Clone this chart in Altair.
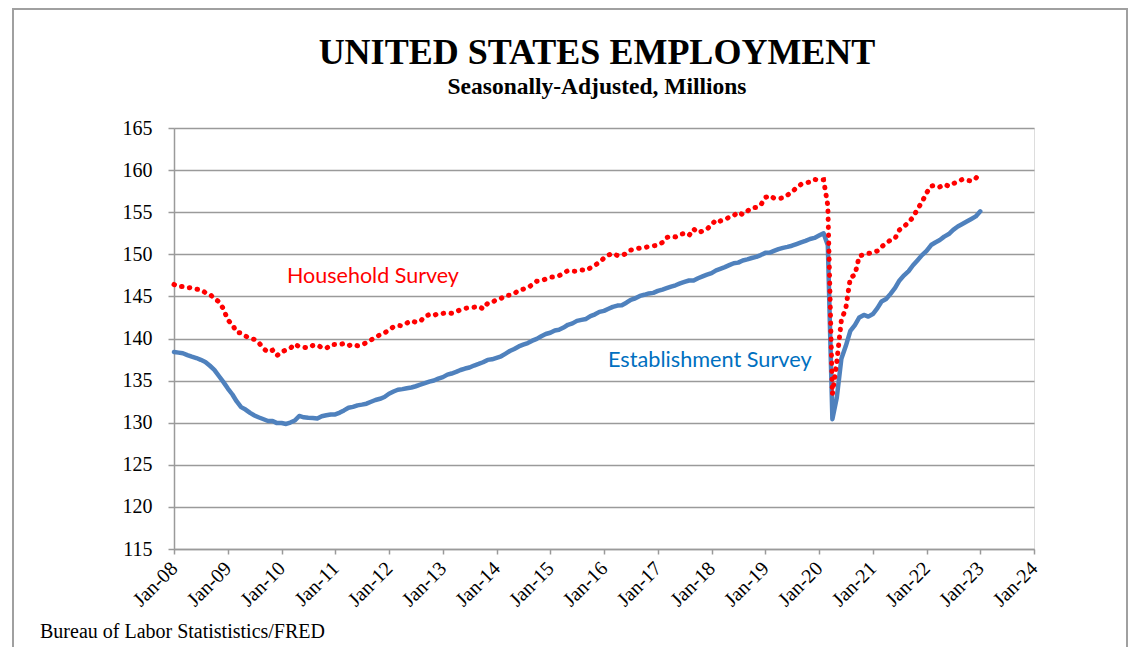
import altair as alt
import pandas as pd

# Monthly values, Jan-2008 .. Jan-2023 (millions)
establishment = [
    # 2008
    138.40, 138.32, 138.25, 138.03, 137.85, 137.68, 137.47, 137.21, 136.76, 136.28, 135.55, 134.85,
    # 2009
    134.06, 133.35, 132.55, 131.85, 131.56, 131.16, 130.85, 130.62, 130.41, 130.20, 130.21, 129.95,
    # 2010
    129.97, 129.85, 130.02, 130.26, 130.80, 130.64, 130.58, 130.57, 130.51, 130.77, 130.89, 130.98,
    # 2011
    130.98, 131.20, 131.46, 131.77, 131.88, 132.06, 132.15, 132.26, 132.49, 132.70, 132.84, 133.05,
    # 2012
    133.44, 133.70, 133.91, 133.99, 134.10, 134.18, 134.33, 134.51, 134.69, 134.87, 135.01, 135.23,
    # 2013
    135.41, 135.71, 135.84, 136.03, 136.26, 136.43, 136.55, 136.79, 136.98, 137.18, 137.46, 137.53,
    # 2014
    137.71, 137.89, 138.18, 138.51, 138.76, 139.06, 139.27, 139.46, 139.74, 139.96, 140.27, 140.53,
    # 2015
    140.68, 140.95, 141.03, 141.30, 141.63, 141.80, 142.09, 142.21, 142.32, 142.65, 142.87, 143.16,
    # 2016
    143.28, 143.53, 143.76, 143.91, 143.95, 144.25, 144.60, 144.78, 145.06, 145.19, 145.35, 145.42,
    # 2017
    145.65, 145.81, 145.98, 146.16, 146.32, 146.54, 146.72, 146.89, 146.90, 147.16, 147.38, 147.58,
    # 2018
    147.77, 148.10, 148.28, 148.48, 148.71, 148.94, 149.01, 149.27, 149.40, 149.56, 149.69, 149.91,
    # 2019
    150.17, 150.20, 150.40, 150.61, 150.76, 150.88, 151.02, 151.22, 151.42, 151.60, 151.82, 151.95,
    # 2020
    152.23, 152.50, 151.09, 130.42, 133.00, 137.60, 139.10, 140.90, 141.60, 142.50, 142.80, 142.60,
    # 2021
    142.90, 143.60, 144.40, 144.70, 145.30, 146.00, 146.90, 147.50, 148.00, 148.70, 149.30, 149.90,
    # 2022
    150.40, 151.10, 151.40, 151.70, 152.10, 152.40, 152.90, 153.30, 153.60, 153.90, 154.20, 154.50,
    # 2023
    155.10,
]

household = [
    # 2008
    146.42, 146.17, 146.17, 146.01, 146.06, 145.86, 145.79, 145.45, 145.24, 144.76, 144.36, 143.55,
    # 2009
    142.19, 141.66, 140.75, 140.65, 140.29, 140.00, 139.89, 139.46, 138.78, 138.40, 138.61, 137.97,
    # 2010
    138.43, 138.63, 138.83, 139.35, 139.03, 138.96, 138.88, 139.17, 139.24, 138.91, 138.83, 139.27,
    # 2011
    139.28, 139.28, 139.41, 139.15, 139.31, 139.14, 139.24, 139.51, 139.83, 140.15, 140.44, 140.67,
    # 2012
    141.01, 141.40, 141.54, 141.52, 141.83, 142.12, 141.93, 142.05, 142.61, 142.85, 142.73, 142.98,
    # 2013
    142.98, 143.06, 142.99, 143.19, 143.42, 143.58, 143.67, 143.72, 143.83, 143.51, 144.17, 144.29,
    # 2014
    144.63, 144.77, 145.12, 145.13, 145.33, 145.74, 145.86, 146.05, 146.39, 146.80, 146.84, 147.07,
    # 2015
    147.28, 147.31, 147.44, 147.77, 148.06, 148.00, 147.99, 148.14, 148.08, 148.40, 148.70, 149.07,
    # 2016
    149.55, 149.91, 150.12, 149.85, 149.89, 150.08, 150.50, 150.63, 150.74, 150.78, 150.94, 151.00,
    # 2017
    151.08, 151.41, 151.99, 152.15, 152.06, 152.37, 152.47, 152.24, 153.01, 152.57, 152.76, 153.01,
    # 2018
    153.48, 154.12, 153.95, 154.11, 154.41, 154.60, 155.00, 154.71, 155.13, 155.52, 155.56, 155.84,
    # 2019
    156.75, 156.97, 156.66, 156.63, 156.70, 157.04, 157.42, 157.90, 158.31, 158.48, 158.58, 158.90,
    # 2020
    158.80, 158.85, 155.77, 133.40, 137.24, 142.18, 143.58, 147.22, 147.56, 149.81, 149.95, 150.10,
    # 2021
    150.20, 150.40, 150.90, 151.30, 151.70, 151.90, 152.90, 153.30, 153.80, 154.40, 155.40, 156.20,
    # 2022
    157.30, 158.10, 158.20, 158.00, 158.30, 158.10, 158.40, 158.60, 158.90, 158.80, 158.70, 159.00,
    # 2023
    159.80,
]

months = pd.date_range("2008-01-01", "2023-01-01", freq="MS").strftime("%Y-%m-%d").tolist()
years = list(range(2008, 2025))
y_ticks = list(range(115, 170, 5))

title_text = ["UNITED STATES EMPLOYMENT"]
subtitle_text = ["Seasonally-Adjusted, Millions"]
source_text = ["Bureau of Labor Statististics/FRED"]
household_label = ["Household Survey"]
establishment_label = ["Establishment Survey"]

df_est = pd.DataFrame({"date": months, "value": establishment})
df_hh = pd.DataFrame({"date": months, "value": household})

SERIF = "Liberation Serif"
GRID = "#9a9a9a"

x_enc = alt.X(
    "date:T",
    scale=alt.Scale(
        type="utc",
        domain=[alt.DateTime(year=2008, month=1, date=1, utc=True),
                alt.DateTime(year=2024, month=1, date=1, utc=True)],
    ),
    axis=alt.Axis(
        values=[alt.DateTime(year=y, month=1, date=1, utc=True) for y in years],
        labelExpr="utcFormat(datum.value, '%b-%y')",
        labelAngle=315,
        labelAlign="right",
        labelBaseline="middle",
        labelFont=SERIF,
        labelFontSize=20,
        labelColor="black",
        labelPadding=11,
        tickSize=5,
        tickColor=GRID,
        tickWidth=1.5,
        domainColor=GRID,
        domainWidth=1.5,
        grid=False,
        title=None,
        labelOverlap=False,
        labelFlush=False,
    ),
)
y_enc = alt.Y(
    "value:Q",
    scale=alt.Scale(domain=[115, 165], nice=False, zero=False),
    axis=alt.Axis(
        values=y_ticks,
        labelFont=SERIF,
        labelFontSize=20,
        labelColor="black",
        labelPadding=16,
        tickSize=6,
        tickColor=GRID,
        tickWidth=1.5,
        domainColor=GRID,
        domainWidth=1.5,
        grid=True,
        gridColor=GRID,
        gridWidth=1.5,
        title=None,
    ),
)

est_line = alt.Chart(df_est).mark_line(
    color="#4F81BD", strokeWidth=4.5, strokeJoin="round", strokeCap="round"
).encode(x=x_enc, y=y_enc)

hh_line = alt.Chart(df_hh).mark_line(
    color="#FF0000", strokeWidth=5, strokeCap="round", strokeDash=[0.5, 7.5]
).encode(x=x_enc, y=y_enc)

def text_layer(values, px, py, size, color, font, weight="normal", align="left"):
    return alt.Chart(pd.DataFrame({"t": values})).mark_text(
        font=font, fontSize=size, color=color, fontWeight=weight,
        align=align, baseline="alphabetic",
    ).encode(text="t:N", x=alt.value(px), y=alt.value(py))

title = text_layer(title_text, 423, -64, 36, "black", SERIF, "bold", "center")
subtitle = text_layer(subtitle_text, 423, -34, 23.5, "black", SERIF, "bold", "center")
source = text_layer(source_text, -134, 510, 20, "black", SERIF)
hh_lbl = text_layer(household_label, 113, 155, 21.5, "#FF0000", "Lato")
est_lbl = text_layer(establishment_label, 434, 239, 21.7, "#0070C0", "Lato")

border = alt.Chart(pd.DataFrame({"b": [0]})).mark_rect(
    fill=None, stroke="#a0a0a0", strokeWidth=2
).encode(x=alt.value(-161), x2=alt.value(953), y=alt.value(-119), y2=alt.value(600))

chart = alt.layer(
    border, est_line, hh_line, title, subtitle, source, hh_lbl, est_lbl
).properties(
    width=860, height=421,
    padding={"left": 166, "top": 120, "right": 94, "bottom": 98},
    autosize=alt.AutoSizeParams(type="none"),
).configure_view(stroke=None).configure(background="white")

chart.save("out.html", embed_options={"renderer": "svg", "actions": False})
